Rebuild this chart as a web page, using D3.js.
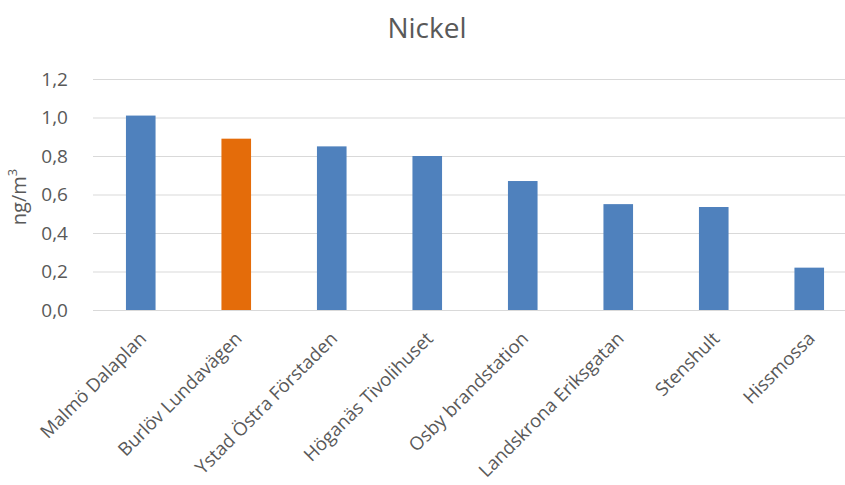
<!DOCTYPE html>
<html>
<head>
<meta charset="utf-8">
<script src="https://cdn.jsdelivr.net/npm/d3@7"></script>
<style>
	body { margin: 0; background: #fff; }
	svg text { font-family: "Open Sans", sans-serif; fill: #595959; }
</style>
</head>
<body>
<svg id="chart"></svg>
<script>
var stations = ["Malmö Dalaplan", "Burlöv Lundavägen", "Ystad Östra Förstaden", "Höganäs Tivolihuset",
	"Osby brandstation", "Landskrona Eriksgatan", "Stenshult", "Hissmossa"]
var nickel = [1.01, 0.89, 0.85, 0.80, 0.67, 0.55, 0.535, 0.22]
var highlight = ["Burlöv Lundavägen"]
var yTicks = [0, 0.2, 0.4, 0.6, 0.8, 1.0, 1.2]

var dim = {
	width: 845,
	height: 485,
	left: 93,
	right: 857,
	top: 79,
	bottom: 310
}

var svg = d3.select('#chart')
	.attr('width', dim.width)
	.attr('height', dim.height)

var x = d3.scaleBand()
	.domain(stations)
	.range([dim.left, dim.right])
	.paddingInner(0.69)
	.paddingOuter(0.345)

var y = d3.scaleLinear()
	.domain([0, 1.2])
	.range([dim.bottom, dim.top])

// gridlines
svg.append('g')
	.selectAll('line')
	.data(yTicks)
	.enter()
	.append('line')
		.attr('x1', dim.left)
		.attr('x2', dim.right)
		.attr('y1', d => y(d) + 0.5)
		.attr('y2', d => y(d) + 0.5)
		.attr('stroke', '#d9d9d9')
		.attr('stroke-width', 1)

// y axis labels
var yAxis = svg.append('g')
	.attr('transform', 'translate(' + (dim.left - 22) + ',0)')
	.call(d3.axisLeft(y).tickValues(yTicks).tickSize(0).tickFormat(d => d3.format('.1f')(d).replace('.', ',')))
yAxis.select('.domain').remove()
yAxis.selectAll('text')
	.attr('font-size', 19)
	.attr('fill', '#595959')
	.attr('font-family', '"Open Sans", sans-serif')

svg.selectAll('rect.bar')
	.data(stations)
	.enter()
	.append('rect')
		.attr('class', 'bar')
		.attr('x', d => x(d))
		.attr('y', (d, i) => y(nickel[i]))
		.attr('width', x.bandwidth())
		.attr('height', (d, i) => y(0) - y(nickel[i]))
		.attr('fill', d => highlight.includes(d) ? '#e46c0a' : '#4f81bd')

// x labels
svg.append('g')
	.selectAll('text')
	.data(stations)
	.enter()
	.append('text')
		.attr('transform', d => 'translate(' + (x(d) + x.bandwidth() / 2 - 3) + ',330) rotate(-45)')
		.attr('text-anchor', 'end')
		.attr('dy', '0.75em')
		.attr('font-size', 18.5)
		.text(d => d)

svg.append('text')
	.attr('x', 427)
	.attr('y', 38)
	.attr('text-anchor', 'middle')
	.attr('font-size', 28)
	.text('Nickel')

svg.append('text')
	.attr('transform', 'translate(26,197) rotate(-90)')
	.attr('text-anchor', 'middle')
	.attr('font-size', 20)
	.html('ng/m<tspan baseline-shift="super" font-size="13">3</tspan>')
</script>
</body>
</html>
